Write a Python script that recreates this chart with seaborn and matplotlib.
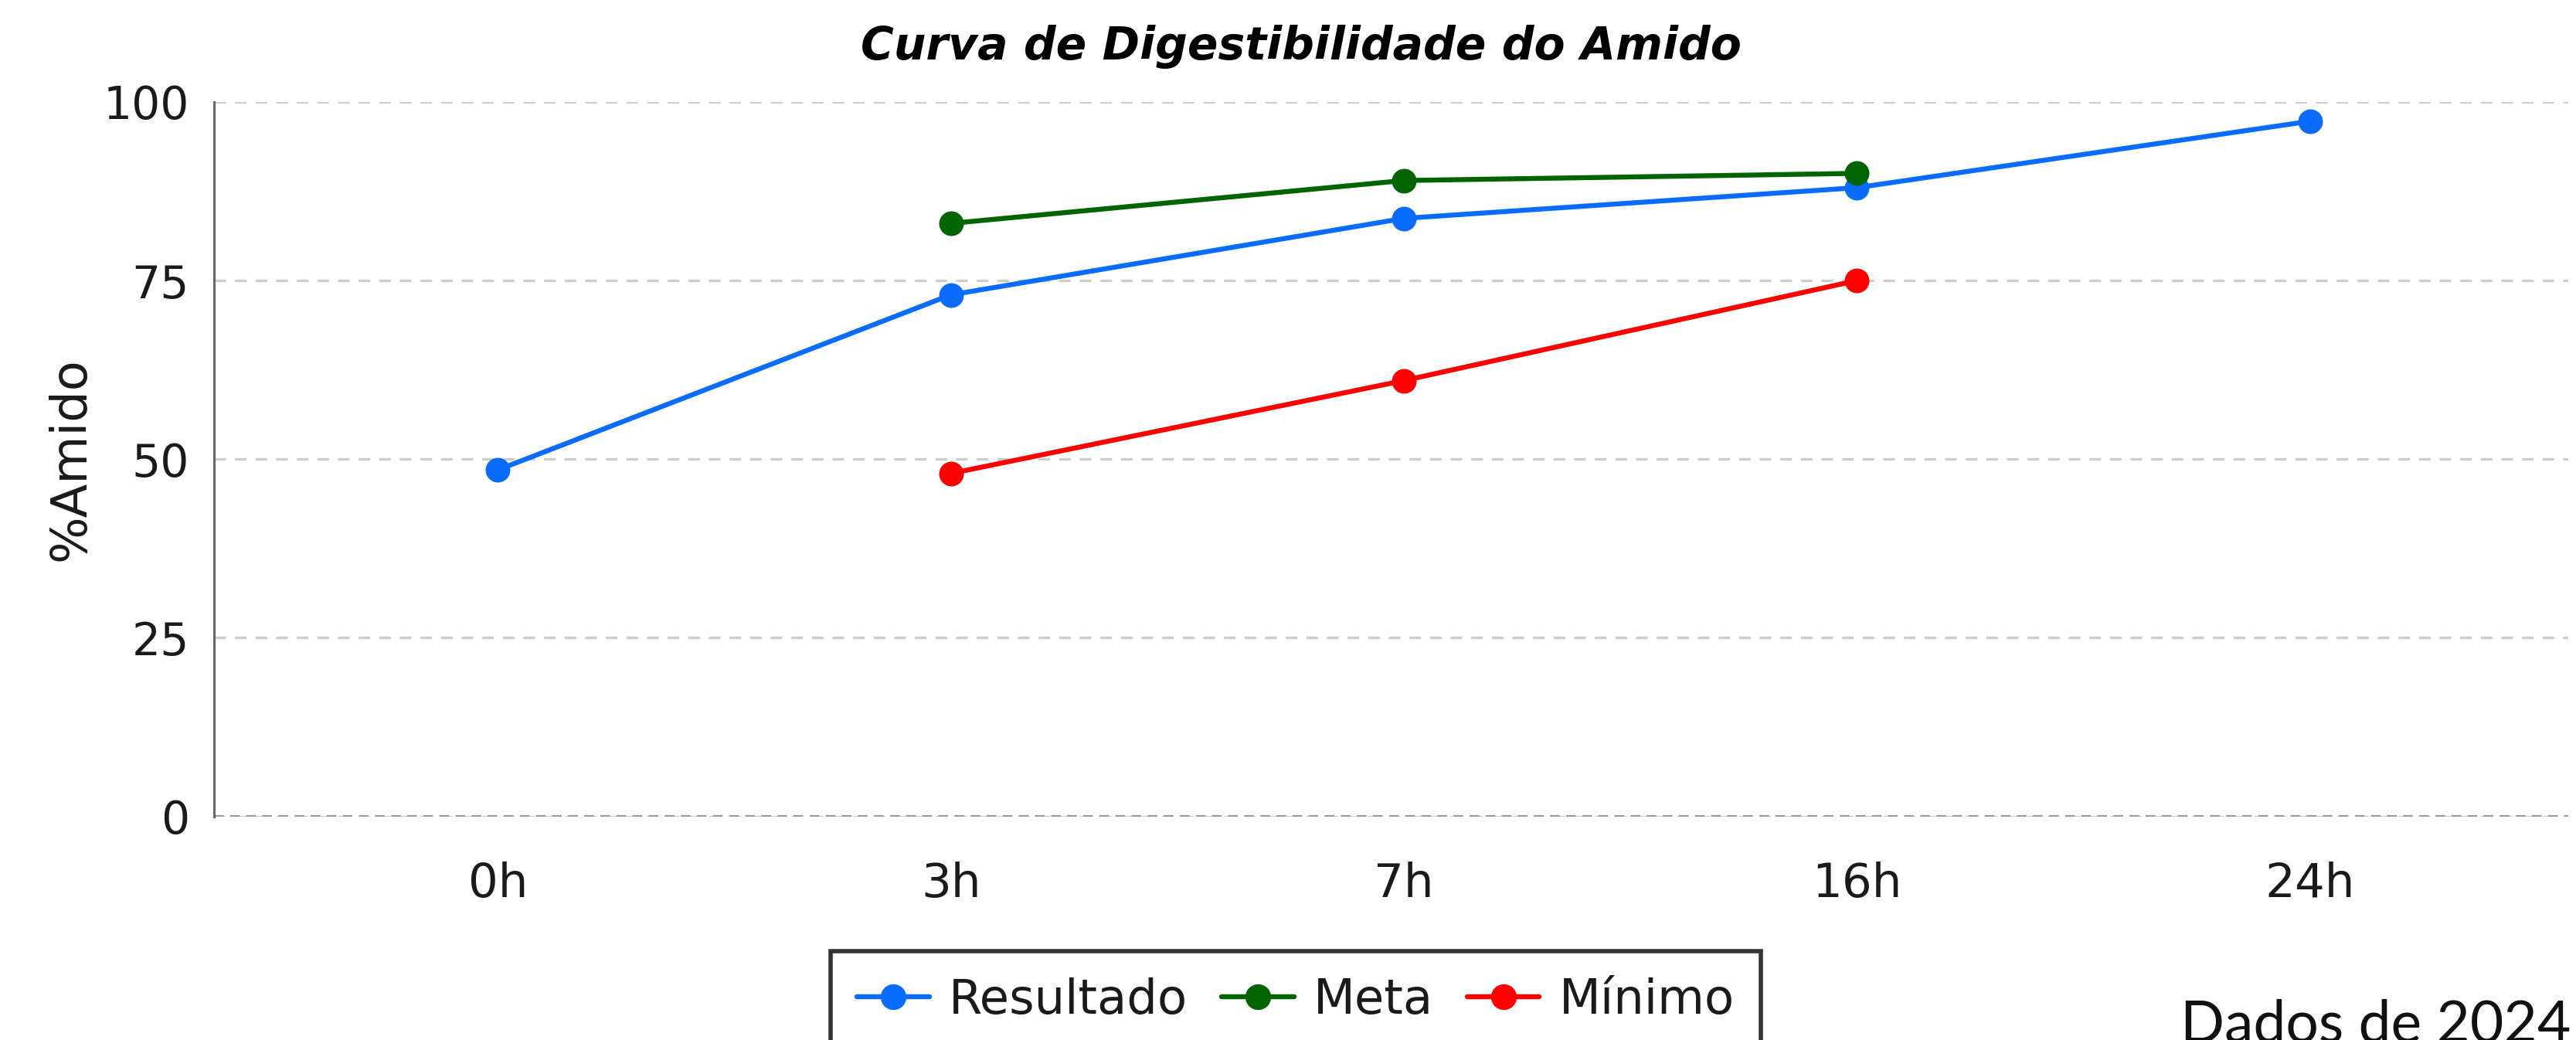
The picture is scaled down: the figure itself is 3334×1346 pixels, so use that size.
import pandas as pd
import matplotlib
matplotlib.use('Agg')
import matplotlib.pyplot as plt
from matplotlib.lines import Line2D
import seaborn as sns

# Data
horas = ['0h', '3h', '7h', '16h', '24h']
resultado = [48.5, 73.0, 83.7, 88.0, 97.3]
meta = [None, 83.0, 89.0, 90.0, None]
minimo = [None, 48.0, 61.0, 75.0, None]
series = ['Resultado', 'Meta', 'Mínimo']
cores = {'Resultado': '#0a6cff', 'Meta': '#006400', 'Mínimo': '#ff0000'}

rows = []
for nome, vals in zip(series, [resultado, meta, minimo]):
    for h, v in zip(horas, vals):
        if v is not None:
            rows.append({'Hora': h, 'Amido': v, 'Serie': nome})
df = pd.DataFrame(rows)

sns.set_style('white')
plt.rcParams['font.family'] = ['DejaVu Sans']

fig = plt.figure(figsize=(16.67, 6.73), dpi=200)
ax = fig.add_axes([0.083, 0.215, 0.914, 0.687])

sns.lineplot(data=df, x='Hora', y='Amido', hue='Serie', palette=cores,
             marker='o', markersize=11.5, markeredgewidth=0, linewidth=2.3,
             sort=False, legend=False, ax=ax)

ax.set_xlim(-0.627, 4.57)
ax.set_ylim(0, 100)
ax.set_yticks([0, 25, 50, 75, 100])
ax.yaxis.grid(True, color='#cccccc', linestyle=(0, (4.5, 3.5)), linewidth=1.2)
ax.set_axisbelow(True)
for s in ['top', 'right', 'bottom']:
    ax.spines[s].set_visible(False)
ax.spines['left'].set_color('#666666')
ax.spines['left'].set_linewidth(1.1)
ax.axhline(0, color='#999999', linestyle=(0, (3, 2)), linewidth=1.5, zorder=1)

ax.tick_params(axis='y', length=5.5, width=1.1, color='#666666', labelsize=21,
               labelcolor='#1a1a1a', pad=6)
ax.tick_params(axis='x', length=4, width=1, color='#444444', labelsize=22,
               labelcolor='#1a1a1a', pad=17)
ax.set_xlabel('')
ax.set_ylabel('%Amido', fontsize=23, color='#1a1a1a', labelpad=4)

fig.text(0.505, 0.955, 'Curva de Digestibilidade do Amido', ha='center', va='center',
         fontsize=21, fontweight='bold', fontstyle='italic', color='black')

handles = [Line2D([], [], color=cores[n], marker='o', markersize=12,
                  markeredgewidth=0, linewidth=2.3) for n in series]
leg = fig.legend(handles, series, loc='upper center', bbox_to_anchor=(0.503, 0.109),
                 ncol=3, fontsize=22.5, frameon=True, fancybox=False,
                 handlelength=1.5, handletextpad=0.4, columnspacing=0.7,
                 borderpad=0.55)
leg.get_frame().set_edgecolor('black')
leg.get_frame().set_linewidth(2)
for t in leg.get_texts():
    t.set_color('#1a1a1a')

fig.text(0.998, -0.002, 'Dados de 2024', ha='right', va='baseline',
         fontsize=27, fontfamily='Lato', color='#111111')

fig.savefig('out.png', dpi=200)
